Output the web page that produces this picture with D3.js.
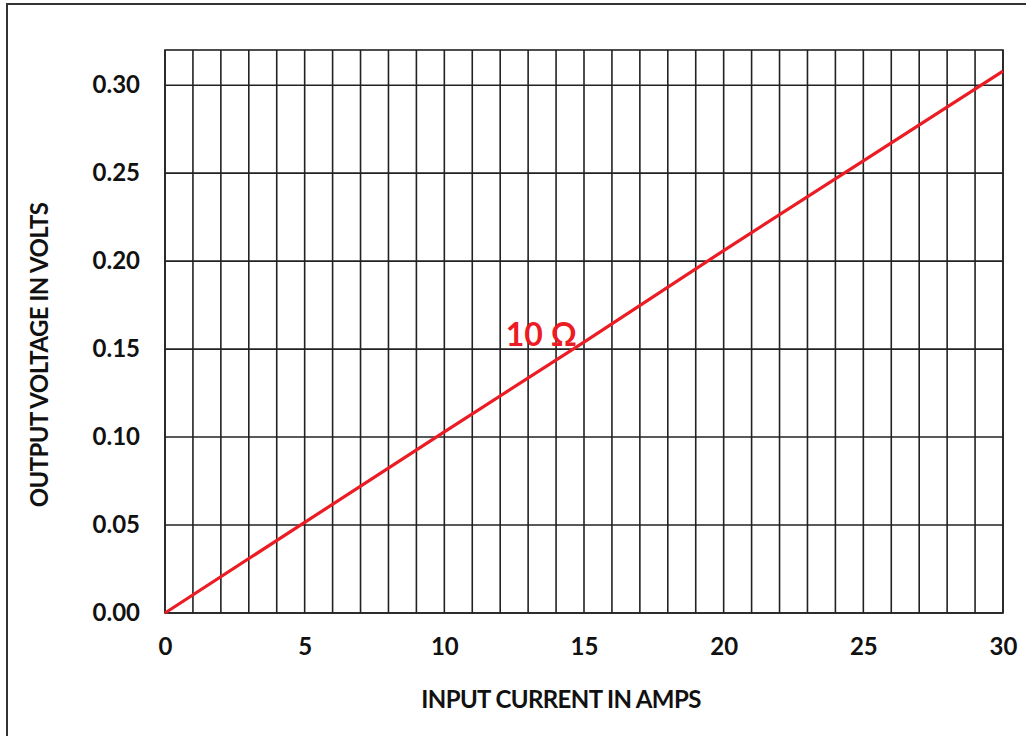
<!DOCTYPE html>
<html>
<head>
<meta charset="utf-8">
<script src="https://cdn.jsdelivr.net/npm/d3@7"></script>
<style>
  body { margin: 0; background: #fff; }
  svg text { font-family: Lato, "Open Sans", sans-serif; font-weight: bold; fill: #111; }
</style>
</head>
<body>
<svg width="1026" height="736"></svg>
<script>
// Values
var currentAmps = [0, 5, 10, 15, 20, 25, 30];
var outputVolts = [0, 0.0515, 0.103, 0.154, 0.206, 0.257, 0.308];
var xTicks = [0, 5, 10, 15, 20, 25, 30];
var yTicks = [0, 0.05, 0.10, 0.15, 0.20, 0.25, 0.30];
var lineLabel = "10 Ω";

var svg = d3.select("svg");

// Outer frame (runs off the right and bottom edges)
svg.append("rect")
    .attr("x", 7).attr("y", 4)
    .attr("width", 1040).attr("height", 760)
    .attr("fill", "none")
    .attr("stroke", "#333")
    .attr("stroke-width", 2);

var margin = {top: 50, left: 165, bottom: 123, right: 23};
var width = 1026 - margin.left - margin.right;
var height = 736 - margin.top - margin.bottom;

var g = svg.append("g").attr("transform", "translate(" + [margin.left, margin.top] + ")");

var xScale = d3.scaleLinear().domain([0, 30]).range([0, width]);
var yScale = d3.scaleLinear().domain([0, 0.32]).range([height, 0]);

// Vertical grid every amp
g.selectAll(".vgrid")
    .data(d3.range(0, 31))
    .enter().append("line")
    .attr("class", "vgrid")
    .attr("x1", function(d) { return xScale(d); })
    .attr("x2", function(d) { return xScale(d); })
    .attr("y1", 0).attr("y2", height)
    .attr("stroke", "#222").attr("stroke-width", 1.6);

// Horizontal grid on y ticks
g.selectAll(".hgrid")
    .data(yTicks)
    .enter().append("line")
    .attr("class", "hgrid")
    .attr("x1", 0).attr("x2", width)
    .attr("y1", function(d) { return yScale(d); })
    .attr("y2", function(d) { return yScale(d); })
    .attr("stroke", "#222").attr("stroke-width", 1.6);

// Plot frame
g.append("rect")
    .attr("width", width).attr("height", height)
    .attr("fill", "none").attr("stroke", "#222").attr("stroke-width", 1.6);

// Axes (labels only)
var xAxis = d3.axisBottom(xScale).tickValues(xTicks).tickSize(0).tickPadding(25).tickFormat(d3.format("d"));
var xAxisG = g.append("g").attr("transform", "translate(0," + height + ")").call(xAxis);
xAxisG.select(".domain").remove();
xAxisG.selectAll("text").style("font-size", "24px").attr("fill", "#111");

var yAxis = d3.axisLeft(yScale).tickValues(yTicks).tickSize(0).tickPadding(25).tickFormat(d3.format(".2f"));
var yAxisG = g.append("g").call(yAxis);
yAxisG.select(".domain").remove();
yAxisG.selectAll("text").style("font-size", "24px").attr("fill", "#111");

// Data line
var line = d3.line()
    .x(function(d, i) { return xScale(currentAmps[i]); })
    .y(function(d) { return yScale(d); });

g.append("path")
    .datum(outputVolts)
    .attr("d", line)
    .attr("fill", "none")
    .attr("stroke", "#ec1c24")
    .attr("stroke-width", 3.2);

// Line label
g.append("text")
    .attr("x", xScale(12.2))
    .attr("y", yScale(0.152))
    .style("font-size", "32px")
    .style("fill", "#ec1c24")
    .text(lineLabel);

// Axis titles
svg.append("text")
    .attr("x", 561)
    .attr("y", 708)
    .attr("text-anchor", "middle")
    .style("font-size", "24px")
    .style("letter-spacing", "-0.6px")
    .text("INPUT CURRENT IN AMPS");

svg.append("text")
    .attr("transform", "translate(48,355) rotate(-90)")
    .attr("text-anchor", "middle")
    .style("font-size", "24px")
    .style("letter-spacing", "-0.6px")
    .text("OUTPUT VOLTAGE IN VOLTS");
</script>
</body>
</html>
